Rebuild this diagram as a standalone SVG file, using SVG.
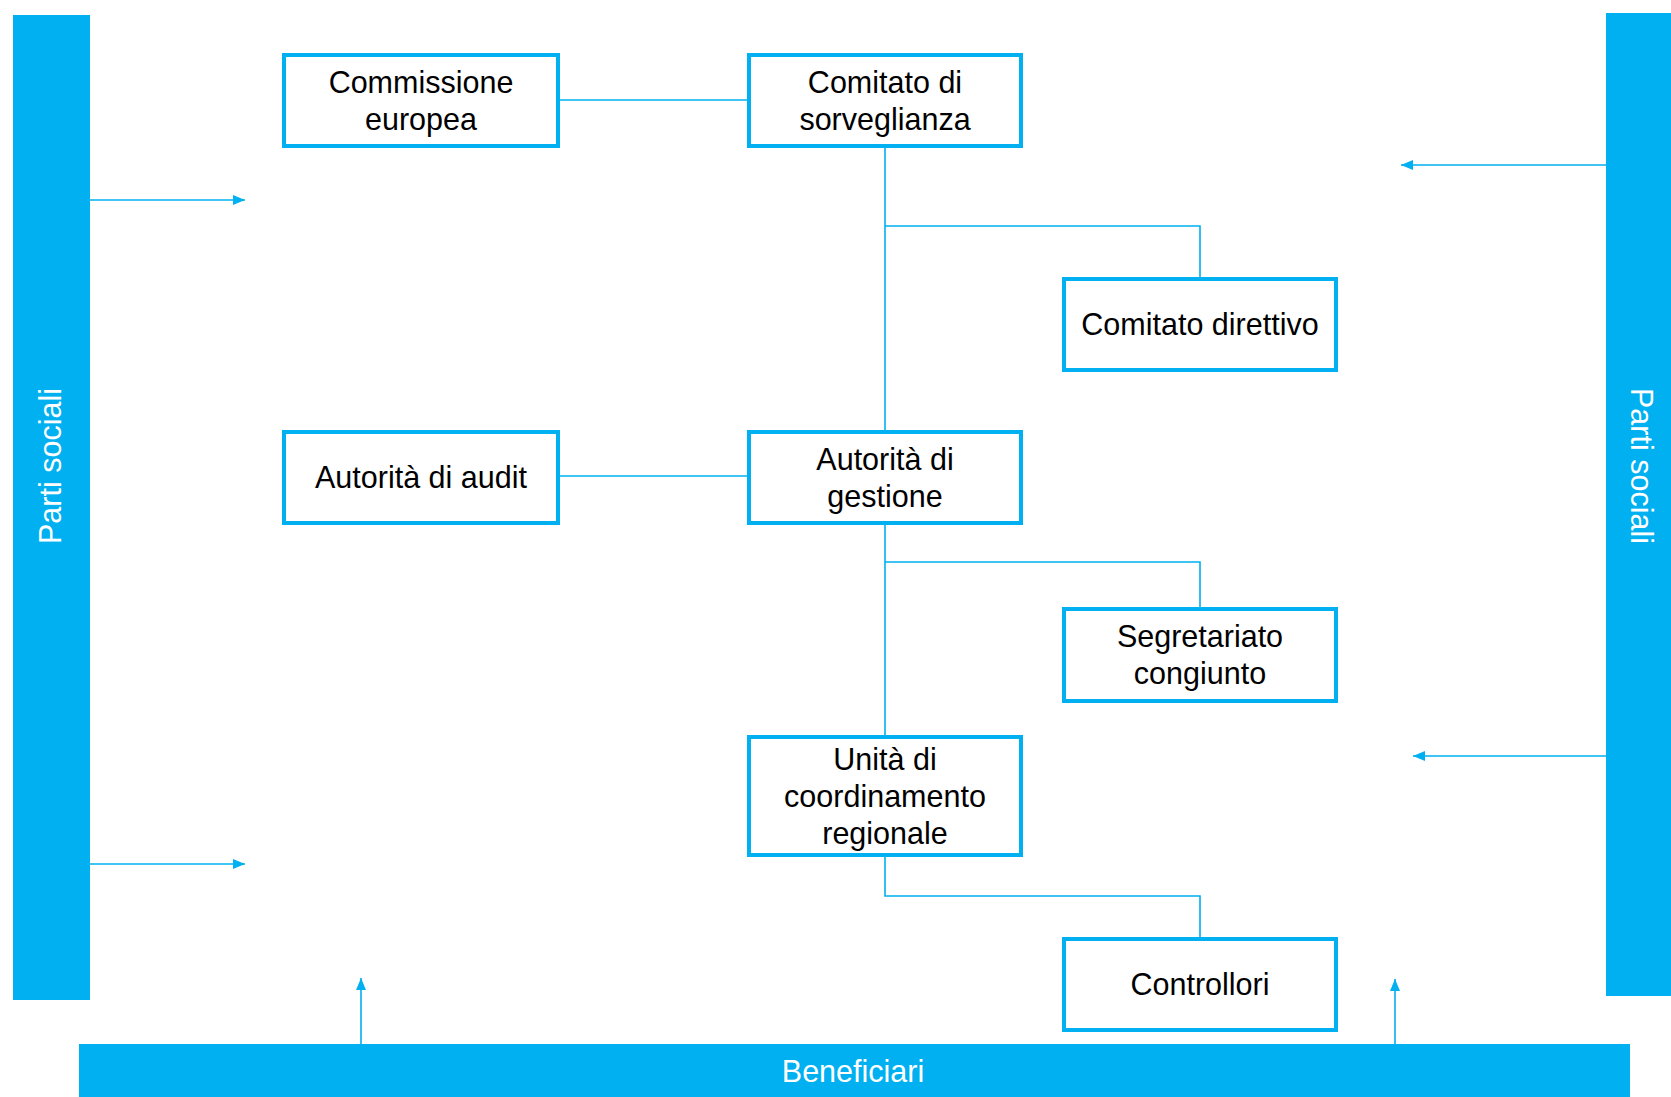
<svg xmlns="http://www.w3.org/2000/svg" width="1671" height="1097" viewBox="0 0 1671 1097">
<style>
.bar{fill:#00B0F0}
.box{fill:#fff;stroke:#00B0F0;stroke-width:4}
.t{font-family:"Liberation Sans",Arial,sans-serif;font-size:30.5px;fill:#000;text-anchor:middle}
.w{font-family:"Liberation Sans",Arial,sans-serif;font-size:30.5px;fill:#fff;text-anchor:middle}
.ln{fill:none;stroke:#00B0F0;stroke-width:1.6}
</style>
<defs>
<marker id="ah" viewBox="0 0 12 10" refX="12" refY="5" markerWidth="12" markerHeight="10" markerUnits="userSpaceOnUse" orient="auto">
<path d="M0,0 L12,5 L0,10 Z" fill="#00B0F0"/>
</marker>
</defs>
<rect width="1671" height="1097" fill="#fff"/>
<g id="parti-sociali-sx">
<rect class="bar" x="13" y="15" width="77" height="985"/>
<text class="w" transform="translate(51,466) rotate(-90)" dy="10">Parti sociali</text>
</g>
<g id="parti-sociali-dx">
<rect class="bar" x="1606" y="13" width="65" height="983"/>
<text class="w" transform="translate(1641,466) rotate(90)" dy="10">Parti sociali</text>
</g>
<g id="beneficiari">
<rect class="bar" x="79" y="1044" width="1551" height="53"/>
<text class="w" x="853" y="1082">Beneficiari</text>
</g>
<g id="connectors">
<path class="ln" d="M560,100 H747"/>
<path class="ln" d="M885,148 V430"/>
<path class="ln" d="M885,226 H1200 V277"/>
<path class="ln" d="M560,476 H747"/>
<path class="ln" d="M885,525 V735"/>
<path class="ln" d="M885,562 H1200 V607"/>
<path class="ln" d="M885,857 V896 H1200 V937"/>
<path class="ln" d="M90,200 H245" marker-end="url(#ah)"/>
<path class="ln" d="M90,864 H245" marker-end="url(#ah)"/>
<path class="ln" d="M1606,165 H1401" marker-end="url(#ah)"/>
<path class="ln" d="M1606,756 H1413" marker-end="url(#ah)"/>
<path class="ln" d="M361,1044 V978" marker-end="url(#ah)"/>
<path class="ln" d="M1395,1044 V979" marker-end="url(#ah)"/>
</g>
<g id="commissione-europea">
<rect class="box" x="284" y="55" width="274" height="91"/>
<text class="t" x="421" y="93">Commissione</text>
<text class="t" x="421" y="130">europea</text>
</g>
<g id="comitato-sorveglianza">
<rect class="box" x="749" y="55" width="272" height="91"/>
<text class="t" x="885" y="93">Comitato di</text>
<text class="t" x="885" y="130">sorveglianza</text>
</g>
<g id="comitato-direttivo">
<rect class="box" x="1064" y="279" width="272" height="91"/>
<text class="t" x="1200" y="335">Comitato direttivo</text>
</g>
<g id="autorita-audit">
<rect class="box" x="284" y="432" width="274" height="91"/>
<text class="t" x="421" y="488">Autorità di audit</text>
</g>
<g id="autorita-gestione">
<rect class="box" x="749" y="432" width="272" height="91"/>
<text class="t" x="885" y="470">Autorità di</text>
<text class="t" x="885" y="507">gestione</text>
</g>
<g id="segretariato-congiunto">
<rect class="box" x="1064" y="609" width="272" height="92"/>
<text class="t" x="1200" y="647">Segretariato</text>
<text class="t" x="1200" y="684">congiunto</text>
</g>
<g id="unita-coordinamento">
<rect class="box" x="749" y="737" width="272" height="118"/>
<text class="t" x="885" y="770">Unità di</text>
<text class="t" x="885" y="807">coordinamento</text>
<text class="t" x="885" y="844">regionale</text>
</g>
<g id="controllori">
<rect class="box" x="1064" y="939" width="272" height="91"/>
<text class="t" x="1200" y="995">Controllori</text>
</g>
</svg>
